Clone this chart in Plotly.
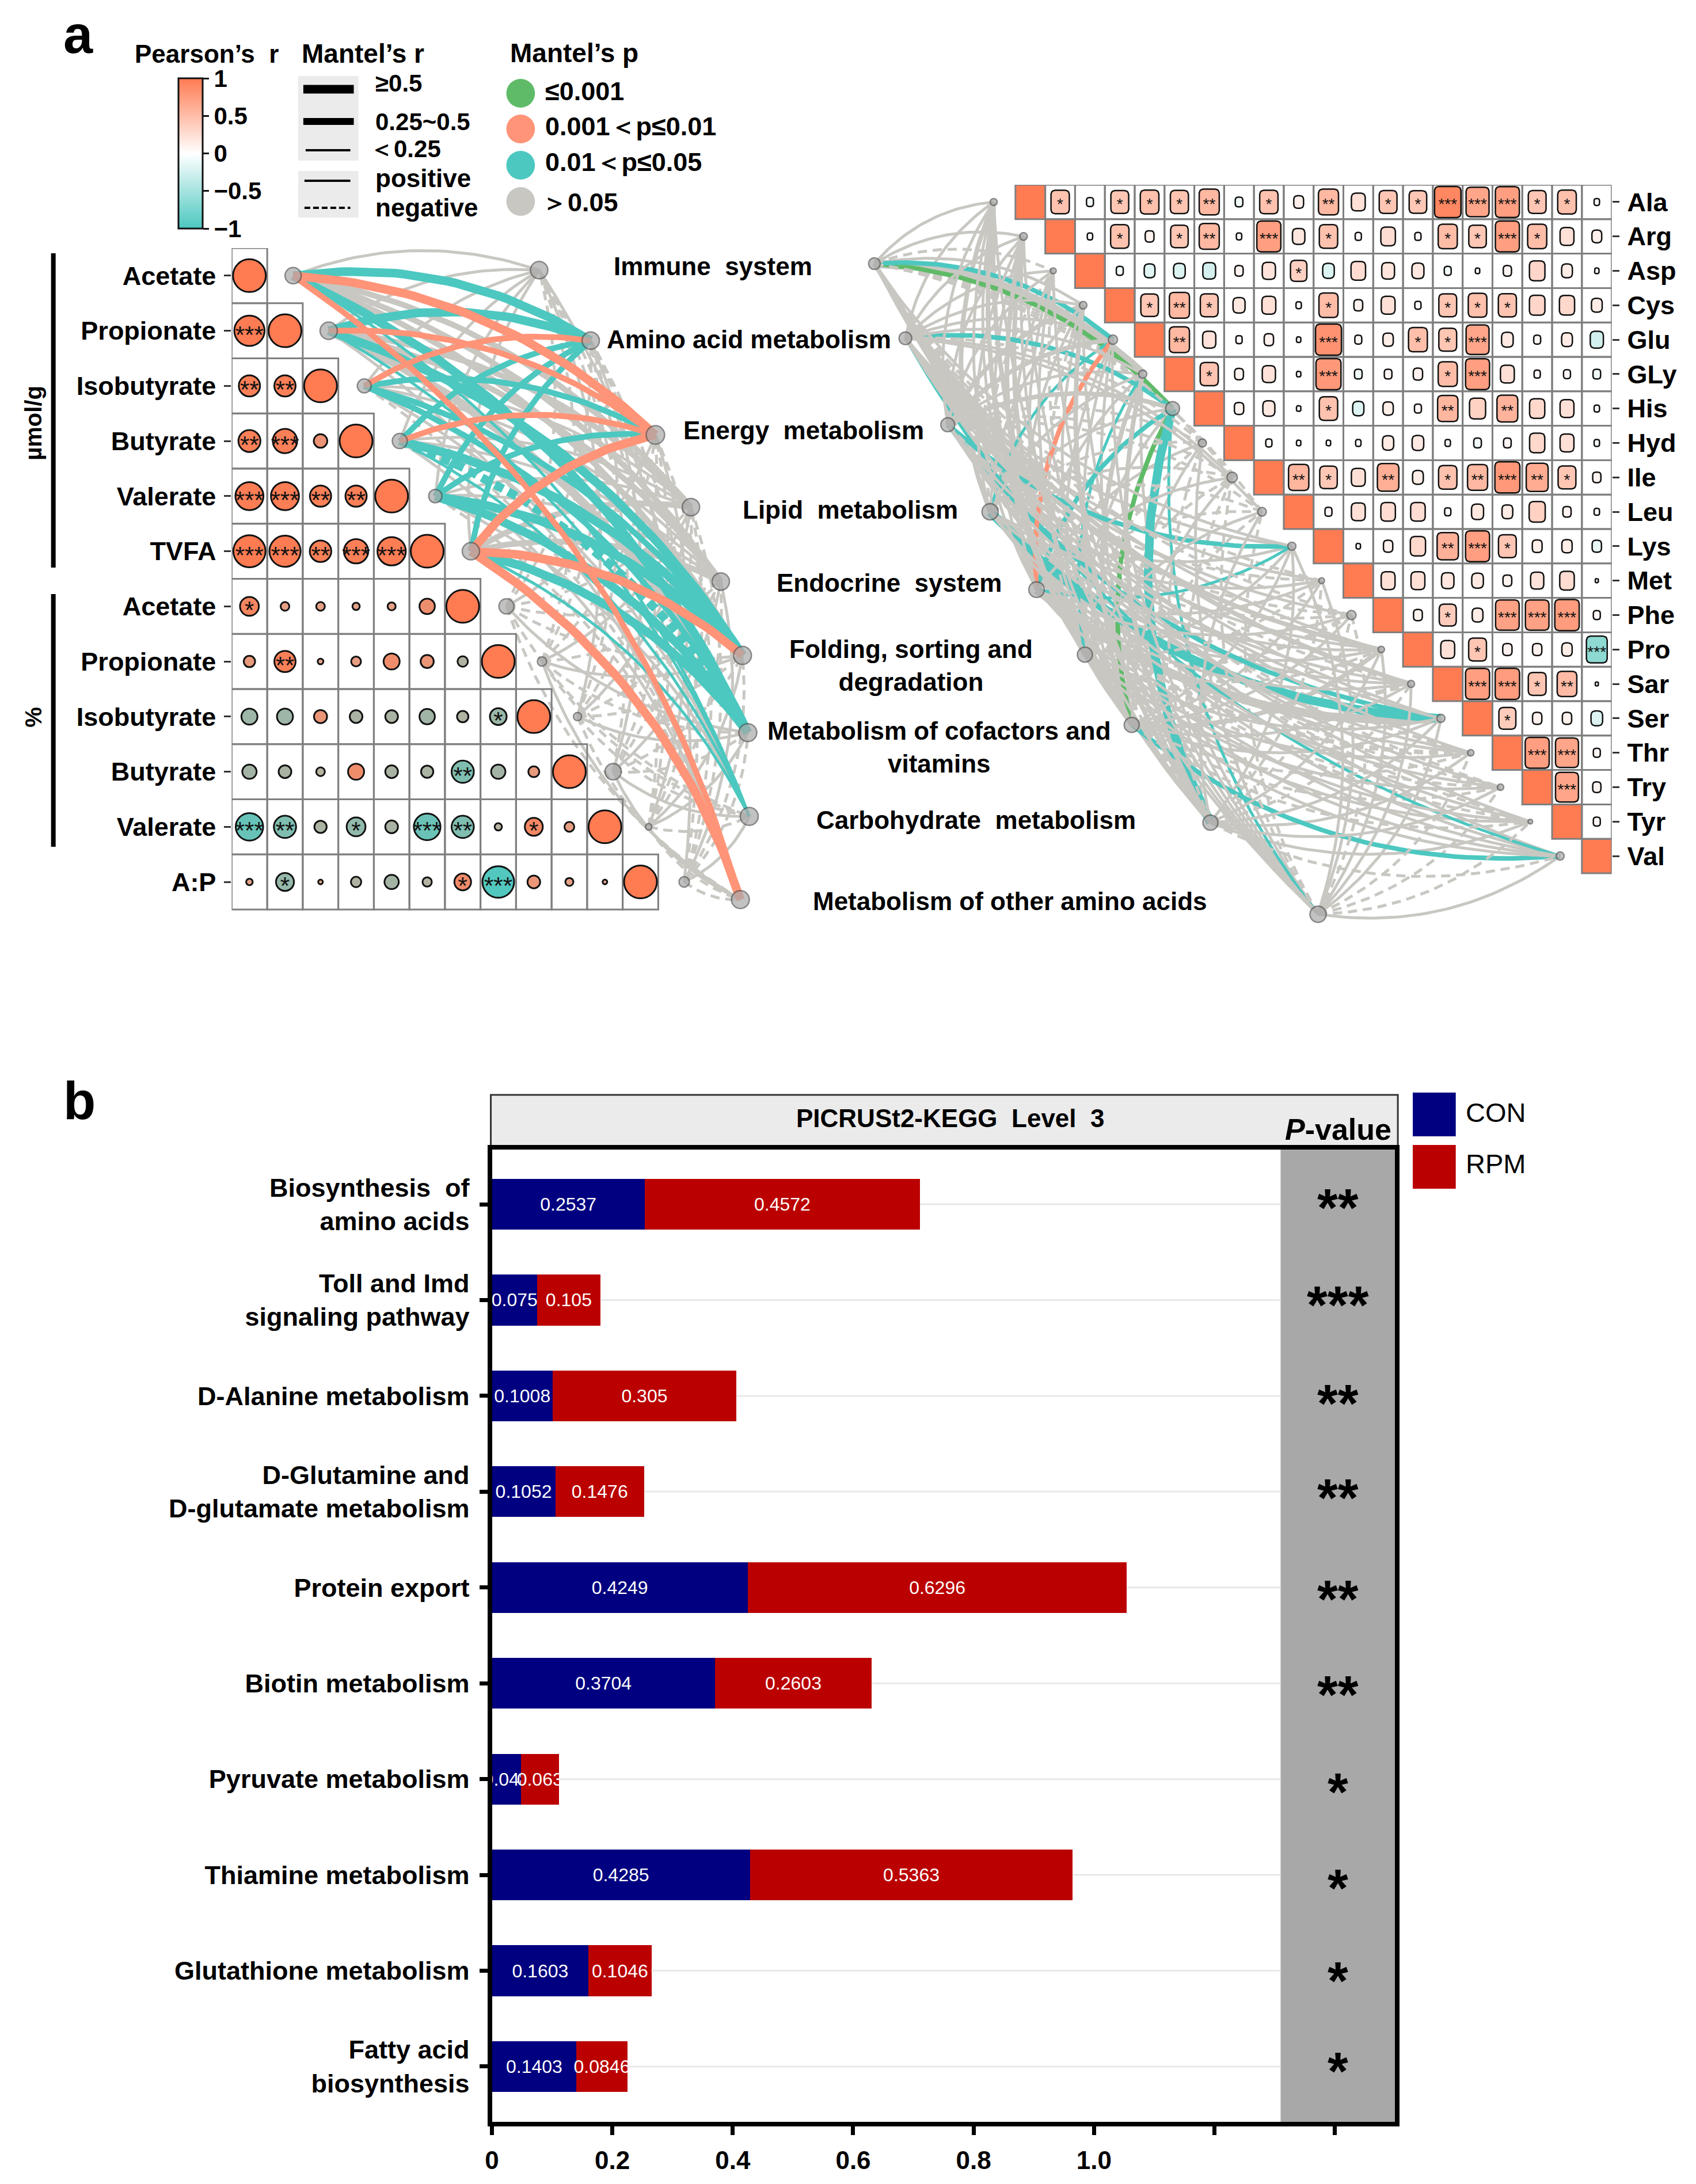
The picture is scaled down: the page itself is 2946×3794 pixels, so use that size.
import math
import plotly.graph_objects as go
from plotly.colors import sample_colorscale

W, H = 2946, 3794
FONT = "Liberation Sans"

# ---------- panel a: left correlogram ----------
LEFT_VARS = ["Acetate", "Propionate", "Isobutyrate", "Butyrate", "Valerate", "TVFA",
             "Acetate", "Propionate", "Isobutyrate", "Butyrate", "Valerate", "A:P"]
LEFT_R = [
    [1],
    [.85, 1],
    [.42, .42, 1],
    [.45, .55, .17, 1],
    [.73, .73, .42, .42, 1],
    [.96, .90, .43, .55, .75, 1],
    [.33, .07, .07, .05, .06, .22, 1],
    [.12, .42, .03, .09, .24, .16, -.10, 1],
    [-.24, -.24, .16, -.15, -.15, -.22, -.12, -.26, 1],
    [-.19, -.15, -.07, .24, -.15, -.14, -.46, -.19, .11, 1],
    [-.70, -.46, -.14, -.33, -.15, -.66, -.46, -.05, .30, .09, 1],
    [.04, -.30, .02, -.10, -.19, -.08, .26, -.93, .15, .06, .02, 1],
]
LEFT_STARS = [
    [""],
    ["***", ""],
    ["**", "**", ""],
    ["**", "***", "", ""],
    ["***", "***", "**", "**", ""],
    ["***", "***", "**", "***", "***", ""],
    ["*", "", "", "", "", "", ""],
    ["", "**", "", "", "", "", "", ""],
    ["", "", "", "", "", "", "", "*", ""],
    ["", "", "", "", "", "", "**", "", "", ""],
    ["***", "**", "", "*", "", "***", "**", "", "*", "", ""],
    ["", "*", "", "", "", "", "*", "***", "", "", "", ""],
]
LEFT_NODE_SIZE = [28, 30, 24, 26, 23, 30, 26, 16, 14, 28, 11, 18]

PATHWAY_LEFT_X = [8.65, 10.10, 11.92, 12.92, 13.76, 14.37, 14.52, 14.56, 14.31]
PATHWAY_LEFT_Y = [0.40, 1.68, 3.39, 4.70, 6.05, 7.39, 8.79, 10.31, 11.82]
PATHWAY_LEFT_SIZE = [30, 30, 32, 30, 30, 31, 31, 31, 31]

MANTEL_P_LEFT = ["ntsnnntts", "ntsnntntn", "nstnnttnn", "ntsnntttn", "nttnnttnn", "ntsnnstts",
                 "nnnnnnnnn", "nnnnnnnnn", "nnnnnnnnn", "nnnnnnnnn", "nnnnnnnnn", "nnnnnnnnn"]
MANTEL_R_LEFT = ["133222312", "132223311", "122112211", "122113311", "122113311", "123223313",
                 "111111111", "111111111", "111111111", "111111111", "111111111", "111111111"]
MANTEL_S_LEFT = ["+++++++++", "+++++++++", "++++++++-", "++++++-++", "++++++++-", "+++++++++",
                 "--+---+--", "---+-+--+", "+--+--+--", "-+--+--++", "--+--++--", "+---+--+-"]

# ---------- panel a: right correlogram ----------
AMINO = ["Ala", "Arg", "Asp", "Cys", "Glu", "GLy", "His", "Hyd", "Ile", "Leu",
         "Lys", "Met", "Phe", "Pro", "Sar", "Ser", "Thr", "Try", "Tyr", "Val"]
AMINO_R = [
    [.35, -.05, .33, .36, .34, .42, -.06, .35, .10, .42, .20, .33, .32, .80, .55, .60, .33, .36, .03],
    [.03, .35, .08, .32, .42, .03, .60, .16, .35, .04, .22, .04, .38, .32, .60, .38, .20, .10],
    [-.05, -.12, -.14, -.17, .07, .18, .28, -.14, .22, .17, .15, -.05, .02, .07, .25, .12, .02],
    [.32, .42, .33, .15, .20, .03, .38, .08, .20, .04, .33, .36, .34, .25, .24, .12],
    [.42, .18, .04, .09, .02, .70, .05, .11, .37, .33, .55, .14, .05, .12, -.18],
    [.34, .08, .18, .02, .65, -.06, .06, .09, .38, .60, .20, .04, .05, -.06],
    [.09, .15, .02, .35, -.13, .11, .05, .43, .27, .45, .24, .20, .03],
    [.04, .02, .02, .03, .13, .14, -.03, -.06, .06, .24, .20, -.03],
    [.43, .32, .20, .48, .12, .35, .42, .65, .50, .33, .07],
    [.05, .20, .22, .22, .04, .15, .12, .27, .07, -.03],
    [.02, .09, .24, .47, .60, .33, .10, .11, -.09],
    [.20, .20, .16, .14, .08, .18, .22, .01],
    [.08, .30, .12, .58, .58, .62, .05],
    [.20, .33, .09, .09, .11, -.45],
    [.60, .62, .33, .40, .01],
    [.30, .09, .09, -.14],
    [.60, .55, .05],
    [.55, .07],
    [.05],
    [],
]
AMINO_STARS = [
    ["*", "", "*", "*", "*", "**", "", "*", "", "**", "", "*", "*", "***", "***", "***", "*", "*", ""],
    ["", "*", "", "*", "**", "", "***", "", "*", "", "", "", "*", "*", "***", "*", "", ""],
    ["", "", "", "", "", "", "*", "", "", "", "", "", "", "", "", "", ""],
    ["*", "**", "*", "", "", "", "*", "", "", "", "*", "*", "*", "", "", ""],
    ["**", "", "", "", "", "***", "", "", "*", "*", "***", "", "", "", ""],
    ["*", "", "", "", "***", "", "", "", "*", "***", "", "", "", ""],
    ["", "", "", "*", "", "", "", "**", "", "**", "", "", ""],
    ["", "", "", "", "", "", "", "", "", "", "", ""],
    ["**", "*", "", "**", "", "*", "**", "***", "**", "*", ""],
    ["", "", "", "", "", "", "", "", "", ""],
    ["", "", "", "**", "***", "*", "", "", ""],
    ["", "", "", "", "", "", "", ""],
    ["", "*", "", "***", "***", "***", ""],
    ["", "*", "", "", "", "***"],
    ["***", "***", "*", "**", ""],
    ["*", "", "", ""],
    ["***", "***", ""],
    ["***", ""],
    [""],
    [],
]
AMINO_NODE_SIZE = [12, 13, 10, 13, 16, 14, 24, 14, 18, 15, 14, 10, 16, 11, 12, 14, 11, 11, 8, 14]

PATHWAY_RIGHT_X = [-4.73, -3.69, -2.27, -0.85, 0.71, 2.33, 3.90, 6.54, 10.15]
PATHWAY_RIGHT_Y = [2.29, 4.46, 6.97, 9.50, 11.76, 13.65, 15.69, 18.53, 21.19]
PATHWAY_RIGHT_SIZE = [20, 22, 24, 28, 27, 26, 26, 26, 28]

MANTEL_P_RIGHT = ["nnnnnnnnn", "nnnnnnnnn", "nnnnnnnnn", "nnnnnnnnn", "tnntsnnnn",
                  "nnnnntnnn", "gtnntngtt", "nnnnnnnnn", "nnnnnnnnn", "nnnnnnnnn",
                  "nntntnnnn", "nnnnnnnnn", "nnnnnnnnn", "nnnnnnnnn", "nnnnnnnnn",
                  "nnttnnnnn", "nnnnnnnnn", "nnnnnnnnn", "nnnnnnnnn", "ntnnnntnn"]
MANTEL_R_RIGHT = ["111211221", "111112211", "111111111", "112111121", "212121111",
                  "311111221", "222121231", "111111111", "111111111", "111111111",
                  "112111111", "111111111", "111112111", "121111211", "211112111",
                  "112331111", "111121111", "111111111", "111111111", "111111211"]
MANTEL_S_RIGHT = ["+++++++++", "+++++++++", "-++-+++-+", "+++++-+++", "+++++++++",
                  "+++++++++", "+++++++++", "----+-+-+", "-+--+-+--", "-+---+-+-",
                  "+++++++++", "-+-++-+-+", "-+--+-+--", "+++++-+++", "+-+++-+-+",
                  "+++++++++", "+-++-+-+-", "-+-+-+-+-", "+-+-++-+-", "+++++++-+"]

PATHWAY_LABELS = ["Immune  system", "Amino acid metabolism", "Energy  metabolism", "Lipid  metabolism",
                  "Endocrine  system", "Folding, sorting and<br>degradation",
                  "Metabolism of cofactors and<br>vitamins", "Carbohydrate  metabolism",
                  "Metabolism of other amino acids"]

# ---------- panel b ----------
PATHWAYS_B = ["Biosynthesis  of<br>amino acids", "Toll and Imd<br>signaling pathway", "D-Alanine metabolism",
              "D-Glutamine and<br>D-glutamate metabolism", "Protein export", "Biotin metabolism",
              "Pyruvate metabolism", "Thiamine metabolism", "Glutathione metabolism",
              "Fatty acid<br>biosynthesis"]
CON = [0.2537, 0.075, 0.1008, 0.1052, 0.4249, 0.3704, 0.048, 0.4285, 0.1603, 0.1403]
RPM = [0.4572, 0.105, 0.305, 0.1476, 0.6296, 0.2603, 0.063, 0.5363, 0.1046, 0.0846]
PVALUE_STARS = ["**", "***", "**", "**", "**", "**", "*", "*", "*", "*"]
B_TICKS = [0, 0.2, 0.4, 0.6, 0.8, 1.0, 1.2, 1.4]
B_TICK_LABELS = ["0", "0.2", "0.4", "0.6", "0.8", "1.0", "", ""]

# ---------- styling / layout constants ----------
CORAL, TEAL, SALMON, GREEN, GREY = "#FF7B52", "#4CC8C0", "#FF9478", "#5FBB68", "#C8C7C2"
LINK_COLOR = {"t": TEAL, "s": SALMON, "g": GREEN, "n": GREY}
NAVY, RED = "#000080", "#BB0000"
NODE_FILL, NODE_EDGE = "#A9A9A9", "#555555"
CIRCLE_SCALE = [[0, "#4CC8C0"], [.25, "#79BFB2"], [.42, "#A8B3A3"], [.49, "#BDB3A0"],
                [.5, "#D8A890"], [.53, "#E6A084"], [.6, "#EC9070"], [.7, "#FA8058"], [1, CORAL]]
BAR_SCALE = [[0, TEAL], [.5, "#FFFFFF"], [1, CORAL]]
SQUARE_SCALE = [[0, TEAL], [.28, "#8FD9D2"], [.5, "#FFFFFF"], [.6, "#FFE0D6"], [.68, "#FFC0AC"],
                [.8, "#FF9E80"], [.95, CORAL], [1, CORAL]]

LX0, LX1, LY0, LY1, LCW, LCH = 392, 1394, 431, 1600, 62.0, 95.75
RX0, RX1, RY0, RY1, RCW, RCH = 1450, 2799, 321, 1638, 52.0, 59.8
BX0, BX1, BY0, BY1 = 846, 2421, 1997, 3686
B_RANGE = [9.577, -0.571]
STAR_SHIFT = [.09, .105, .135, .12, .175, .175, .19, .19, .16, .105]


def X(p): return p / W
def Y(p): return 1 - p / H


fig = go.Figure()


def curve(ax, ay, bx, by, up, k, n=40):
    """Quadratic arc between two points given in pixel-like units, bulging left of travel if up."""
    dx, dy = bx - ax, by - ay
    L = math.hypot(dx, dy) or 1
    nx, ny = dy / L, -dx / L
    if not up:
        nx, ny = -nx, -ny
    cx, cy = (ax + bx) / 2 + nx * k * L, (ay + by) / 2 + ny * k * L
    xs, ys = [], []
    for i in range(n + 1):
        t = i / n
        xs.append((1 - t) ** 2 * ax + 2 * t * (1 - t) * cx + t * t * bx)
        ys.append((1 - t) ** 2 * ay + 2 * t * (1 - t) * cy + t * t * by)
    return xs, ys


def add_links(px, py, pmat, rmat, smat, cw, ch, nodex, split, k, widths, order, xa, ya, right_side):
    groups = {}
    for i, (ps, rs, ss) in enumerate(zip(pmat, rmat, smat)):
        for j in range(len(px)):
            layer = order[ps[j]]
            if ps[j] == "n" and right_side:
                layer = 0 if (i + j) % 2 else 9
            key = (layer, ps[j], rs[j], ss[j])
            node = (nodex(i) * cw, (i + .5) * ch)
            path = (px[j] * cw, py[j] * ch)
            a, b = (path, node) if right_side else (node, path)
            xs, ys = curve(a[0], a[1], b[0], b[1], i < split, k)
            g = groups.setdefault(key, ([], []))
            g[0].extend([v / cw for v in xs] + [None])
            g[1].extend([v / ch for v in ys] + [None])
    for key in sorted(groups):
        _, c, r, s = key
        fig.add_trace(go.Scatter(
            x=groups[key][0], y=groups[key][1], mode="lines", xaxis=xa, yaxis=ya,
            hoverinfo="skip", showlegend=False,
            line=dict(color=LINK_COLOR[c], width=widths[r], dash="solid" if s == "+" else "16px,10px")))


def grid_lines(cells):
    gx, gy = [], []
    for c, r in cells:
        gx += [c, c + 1, c + 1, c, c, None]
        gy += [r, r, r + 1, r + 1, r, None]
    return gx, gy


# ------ left links ------
add_links(PATHWAY_LEFT_X, PATHWAY_LEFT_Y, MANTEL_P_LEFT, MANTEL_R_LEFT, MANTEL_S_LEFT,
          LCW, LCH, lambda i: i + 1.73, 6, .18, {"1": 5, "2": 10, "3": 15},
          {"n": 0, "t": 1, "s": 2, "g": 3}, "x", "y", False)

# ------ left grid and circles ------
cells = [(c, r) for r, row in enumerate(LEFT_R) for c in range(len(row))]
gx, gy = grid_lines(cells)
fig.add_trace(go.Scatter(x=gx, y=gy, mode="lines", line=dict(color="#7F7F7F", width=3),
                         hoverinfo="skip", showlegend=False, xaxis="x", yaxis="y"))
cx, cy, cv, cs, sx, sy, st = [], [], [], [], [], [], []
for r, row in enumerate(LEFT_R):
    for c, v in enumerate(row):
        cx.append(c + .5)
        cy.append(r + .5)
        cv.append(v)
        cs.append(57 * math.sqrt(abs(v)))
        if LEFT_STARS[r][c]:
            sx.append(c + .5)
            sy.append(r + .5 + 0.11)
            st.append(LEFT_STARS[r][c])
fig.add_trace(go.Scatter(x=cx, y=cy, mode="markers", xaxis="x", yaxis="y", showlegend=False, hoverinfo="skip",
                         marker=dict(size=cs, color=cv, colorscale=CIRCLE_SCALE, cmin=-1, cmax=1,
                                     line=dict(color="#111111", width=3), opacity=1)))
fig.add_trace(go.Scatter(x=sx, y=sy, mode="text", text=st, xaxis="x", yaxis="y", showlegend=False, hoverinfo="skip",
                         textfont=dict(family=FONT, size=42, color="#111111")))
# left nodes
fig.add_trace(go.Scatter(
    x=[i + 1.73 for i in range(12)] + PATHWAY_LEFT_X,
    y=[i + .5 for i in range(12)] + PATHWAY_LEFT_Y,
    mode="markers", xaxis="x", yaxis="y", showlegend=False, hoverinfo="skip",
    marker=dict(size=LEFT_NODE_SIZE + PATHWAY_LEFT_SIZE, color=NODE_FILL, line=dict(color=NODE_EDGE, width=2.5))))

# ------ right links ------
add_links(PATHWAY_RIGHT_X, PATHWAY_RIGHT_Y, MANTEL_P_RIGHT, MANTEL_R_RIGHT, MANTEL_S_RIGHT,
          RCW, RCH, lambda i: i - .73, 10, .2, {"1": 5, "2": 8, "3": 15},
          {"g": 1, "t": 2, "s": 3, "n": 0}, "x2", "y2", True)

# ------ right grid and rounded squares ------
for i in range(20):
    v = [i, i + 1, i + 1, i, i]
    fig.add_trace(go.Scatter(x=v, y=[i, i, i + 1, i + 1, i], mode="lines", fill="toself", fillcolor=CORAL,
                             line=dict(color=CORAL, width=0), xaxis="x2", yaxis="y2",
                             hoverinfo="skip", showlegend=False))
cells = [(c, r) for r in range(20) for c in range(r, 20)]
gx, gy = grid_lines(cells)
fig.add_trace(go.Scatter(x=gx, y=gy, mode="lines", line=dict(color="#7F7F7F", width=3),
                         hoverinfo="skip", showlegend=False, xaxis="x2", yaxis="y2"))


def rounded(cx_, cy_, w, h, rad):
    pts_x, pts_y = [], []
    corners = [(w / 2 - rad, -h / 2 + rad, -90), (w / 2 - rad, h / 2 - rad, 0),
               (-w / 2 + rad, h / 2 - rad, 90), (-w / 2 + rad, -h / 2 + rad, 180)]
    for qx, qy, a0 in corners:
        for s in range(6):
            a = math.radians(a0 + s * 18)
            pts_x.append(qx + rad * math.cos(a))
            pts_y.append(qy + rad * math.sin(a))
    pts_x.append(pts_x[0])
    pts_y.append(pts_y[0])
    return [cx_ + p / RCW for p in pts_x], [cy_ + p / RCH for p in pts_y]


sx, sy, st = [], [], []
for r, row in enumerate(AMINO_R):
    for k, v in enumerate(row):
        c = r + 1 + k
        w = min(46, 54 * math.sqrt(abs(v)))
        h = min(54, w * 1.28)
        col = sample_colorscale(SQUARE_SCALE, [(v + 1) / 2])[0]
        xs, ys = rounded(c + .5, r + .5, w, h, min(7, w * .35))
        fig.add_trace(go.Scatter(x=xs, y=ys, mode="lines", fill="toself", fillcolor=col,
                                 line=dict(color="#111111", width=2.5), xaxis="x2", yaxis="y2",
                                 hoverinfo="skip", showlegend=False))
        if AMINO_STARS[r][k]:
            sx.append(c + .5)
            sy.append(r + .5 + 0.11)
            st.append(AMINO_STARS[r][k])
fig.add_trace(go.Scatter(x=sx, y=sy, mode="text", text=st, xaxis="x2", yaxis="y2", showlegend=False, hoverinfo="skip",
                         textfont=dict(family=FONT, size=28, color="#111111")))
fig.add_trace(go.Scatter(
    x=[i - .73 for i in range(20)] + PATHWAY_RIGHT_X,
    y=[i + .5 for i in range(20)] + PATHWAY_RIGHT_Y,
    mode="markers", xaxis="x2", yaxis="y2", showlegend=False, hoverinfo="skip",
    marker=dict(size=AMINO_NODE_SIZE + PATHWAY_RIGHT_SIZE, color=NODE_FILL, line=dict(color=NODE_EDGE, width=2.5))))

# ------ colorbar (Pearson's r) ------
fig.add_trace(go.Scatter(
    x=[0, 0], y=[0, 0], mode="markers", xaxis="x", yaxis="y", showlegend=False, hoverinfo="skip",
    marker=dict(size=1, opacity=0, color=[-1, 1], colorscale=BAR_SCALE, cmin=-1, cmax=1, showscale=True,
                colorbar=dict(lenmode="pixels", len=261, thicknessmode="pixels", thickness=42,
                              x=X(299), xanchor="left", y=Y(266.5), yanchor="middle", xpad=0, ypad=0,
                              outlinecolor="#111111", outlinewidth=3,
                              tickmode="array", tickvals=[1, .5, 0, -.5, -1],
                              ticktext=["<b>1</b>", "<b>0.5</b>", "<b>0</b>", "<b>\u22120.5</b>", "<b>\u22121</b>"],
                              ticks="outside", ticklen=10, tickwidth=3, tickcolor="#111111",
                              tickfont=dict(family=FONT, size=42, color="black")))))

# ------ panel b bars ------
TOTALS = [a + b for a, b in zip(CON, RPM)]
fig.add_trace(go.Scatter(x=[v for t in TOTALS for v in (t, 1.31, None)],
                         y=[v for p in PATHWAYS_B for v in (p, p, None)], mode="lines",
                         line=dict(color="#E8E8E8", width=3), xaxis="x3", yaxis="y3",
                         showlegend=False, hoverinfo="skip"))
fig.add_trace(go.Bar(y=PATHWAYS_B, x=CON, orientation="h", marker=dict(color=NAVY, line=dict(width=0)),
                     text=[f"{v:g}" for v in CON], textposition="inside", insidetextanchor="middle",
                     textangle=0, constraintext="none", cliponaxis=True,
                     textfont=dict(family=FONT, size=32, color="white"), width=0.53,
                     xaxis="x3", yaxis="y3", showlegend=False, hoverinfo="skip"))
fig.add_trace(go.Bar(y=PATHWAYS_B, x=RPM, orientation="h", marker=dict(color=RED, line=dict(width=0)),
                     text=[f"{v:g}" for v in RPM], textposition="inside", insidetextanchor="middle",
                     textangle=0, constraintext="none", cliponaxis=True,
                     textfont=dict(family=FONT, size=32, color="white"), width=0.53,
                     xaxis="x3", yaxis="y3", showlegend=False, hoverinfo="skip"))
fig.add_trace(go.Scatter(x=[1.405] * 10, y=[i + STAR_SHIFT[i] for i in range(10)], mode="text",
                         text=[f"<b>{s}</b>" for s in PVALUE_STARS], xaxis="x3", yaxis="y4",
                         showlegend=False, hoverinfo="skip",
                         textfont=dict(family=FONT, size=92, color="black")))

# ------ shapes ------
shapes = []
shapes.append(dict(type="rect", xref="x3", yref="y3 domain", x0=1.31, x1=1.5, y0=0, y1=1,
                   fillcolor="#A8A8A8", line_width=0, layer="below"))
OFFSET = 0


def prect(x0, y0, x1, y1, fill, line=None, lw=0):
    shapes.append(dict(type="rect", xref="paper", yref="paper", x0=X(x0 + OFFSET), x1=X(x1 + OFFSET),
                       y0=Y(y1), y1=Y(y0), fillcolor=fill, line=dict(color=line or fill, width=lw), layer="below"))


def pline(x0, y0, x1, y1, color="black", width=4, dash="solid"):
    shapes.append(dict(type="line", xref="paper", yref="paper", x0=X(x0 + OFFSET), x1=X(x1 + OFFSET),
                       y0=Y(y0), y1=Y(y1), line=dict(color=color, width=width, dash=dash), layer="above"))


def pcircle(cx_, cy_, d, fill):
    shapes.append(dict(type="circle", xref="paper", yref="paper", x0=X(cx_ + OFFSET - d / 2),
                       x1=X(cx_ + OFFSET + d / 2), y0=Y(cy_ + d / 2), y1=Y(cy_ - d / 2),
                       fillcolor=fill, line_width=0, layer="above"))


ann = []


def txt(t, x, y, size=42, anchor="left", color="black", angle=0):
    ann.append(dict(text=t, x=X(x + OFFSET), y=Y(y), xref="paper", yref="paper", showarrow=False, xanchor=anchor,
                    yanchor="middle", align="center" if anchor == "center" else "left", textangle=angle,
                    font=dict(family=FONT, size=size, color=color)))


# strip + legend of panel b
prect(844, 1902, 2426, 1993, "#EBEBEB", "#333333", 3)
prect(2452, 1898, 2527, 1974, NAVY)
prect(2452, 1989, 2527, 2065, RED)
txt("<b>PICRUSt2-KEGG  Level  3</b>", 1645, 1942, 44, "center")
txt("<b><i>P</i>-value</b>", 2322, 1962, 52, "center")
txt("CON", 2542, 1932, 47)
txt("RPM", 2542, 2022, 47)

# panel a legends
OFFSET = -7
prect(515, 132, 620, 279, "#EBEBEB")
prect(515, 297, 620, 378, "#EBEBEB")
pline(524, 155, 612, 155, width=15)
pline(524, 211, 612, 211, width=12)
pline(528, 261, 606, 261, width=4)
pline(526, 314, 606, 314, width=4)
pline(526, 361, 606, 361, width=4, dash="10px,5px")
pcircle(903, 162, 50, GREEN)
pcircle(903, 224, 50, SALMON)
pcircle(903, 287, 50, TEAL)
pcircle(903, 350, 50, GREY)
txt("<b>Pearson\u2019s  r</b>", 228, 94, 44)
txt("<b>Mantel\u2019s r</b>", 519, 93, 46)
txt("<b>Mantel\u2019s p</b>", 883, 92, 46)
txt("<b>\u22650.5</b>", 648, 145)
txt("<b>0.25~0.5</b>", 648, 212)
txt("<b>\uff1c0.25</b>", 638, 259)
txt("<b>positive</b>", 648, 309, 44)
txt("<b>negative</b>", 648, 360, 44)
txt("<b>\u22640.001</b>", 944, 158, 45)
txt("<b>0.001\uff1cp\u22640.01</b>", 944, 220, 45)
txt("<b>0.01\uff1cp\u22640.05</b>", 944, 281, 45)
txt("<b>\uff1e0.05</b>", 938, 351, 45)
OFFSET = 0
pline(81, 440, 81, 986, width=8)
pline(81, 1032, 81, 1471, width=8)
txt("<b>a</b>", 96, 60, 92)
txt("<b>b</b>", 96, 1912, 92)
txt("<b>\u00b5mol/g</b>", 46, 735, 40, "center", angle=-90)
txt("<b>%</b>", 46, 1246, 40, "center", angle=-90)
PATH_LABEL_CX = [1232, 1294, 1390, 1471, 1539, 1577, 1626, 1690, 1750]
PATH_LABEL_CY = [462, 590, 748, 886, 1013, 1156, 1298, 1424, 1565]
for t, x, y in zip(PATHWAY_LABELS, PATH_LABEL_CX, PATH_LABEL_CY):
    txt("<b>" + t.replace("<br>", "</b><br><b>") + "</b>", x, y, 44, "center")

tick = dict(ticks="outside", tickcolor="#333333", tickwidth=3, ticklen=12)
fig.update_layout(
    width=W, height=H, margin=dict(l=0, r=0, t=0, b=0), paper_bgcolor="white", plot_bgcolor="rgba(0,0,0,0)",
    font=dict(family=FONT), barmode="stack", showlegend=False, shapes=shapes, annotations=ann,
    xaxis=dict(domain=[X(LX0), X(LX1)], range=[0, (LX1 - LX0) / LCW], visible=False, anchor="y"),
    yaxis=dict(domain=[Y(LY1), Y(LY0)], range=[(LY1 - LY0) / LCH, 0], anchor="x", zeroline=False, showgrid=False,
               tickmode="array", tickvals=[i + .5 for i in range(12)], ticklabelstandoff=5,
               ticktext=[f"<b>{v}</b>" for v in LEFT_VARS], tickfont=dict(family=FONT, size=45, color="black"), **tick),
    xaxis2=dict(domain=[X(RX0), X(RX1)], range=[20 - (RX1 - RX0) / RCW, 20], visible=False, anchor="y2"),
    yaxis2=dict(domain=[Y(RY1), Y(RY0)], range=[(RY1 - RY0) / RCH, 0], anchor="x2", side="right", zeroline=False,
                showgrid=False, tickmode="array", tickvals=[i + .5 for i in range(20)], ticklabelstandoff=5,
                ticktext=[f"<b>{v}</b>" for v in AMINO], tickfont=dict(family=FONT, size=45, color="black"), **tick),
    xaxis3=dict(domain=[X(BX0), X(BX1)], range=[0, 1.5], anchor="y3", showgrid=False, zeroline=False,
                showline=True, linecolor="black", linewidth=8, mirror=True,
                tickmode="array", tickvals=B_TICKS, ticktext=[f"<b>{t}</b>" if t else "" for t in B_TICK_LABELS],
                tickfont=dict(family=FONT, size=44, color="black"),
                ticks="outside", tickcolor="black", tickwidth=7, ticklen=15, ticklabelstandoff=6),
    yaxis3=dict(domain=[Y(BY1), Y(BY0)], anchor="x3", type="category", categoryorder="array",
                categoryarray=PATHWAYS_B, range=B_RANGE, showgrid=False,
                zeroline=False, showline=True, linecolor="black", linewidth=8, mirror=True,
                ticks="outside", tickcolor="black", tickwidth=7, ticklen=14, ticklabelstandoff=8,
                tickmode="array", tickvals=PATHWAYS_B,
                ticktext=["<b>" + t.replace("<br>", "</b><br><b>") + "</b>" for t in PATHWAYS_B],
                tickfont=dict(family=FONT, size=45, color="black")),
    yaxis4=dict(overlaying="y3", anchor="x3", range=B_RANGE, visible=False),
)
fig.write_html("out.html", config=dict(displayModeBar=False),
               post_script="document.body.style.margin='0';document.documentElement.style.overflow='hidden';")
